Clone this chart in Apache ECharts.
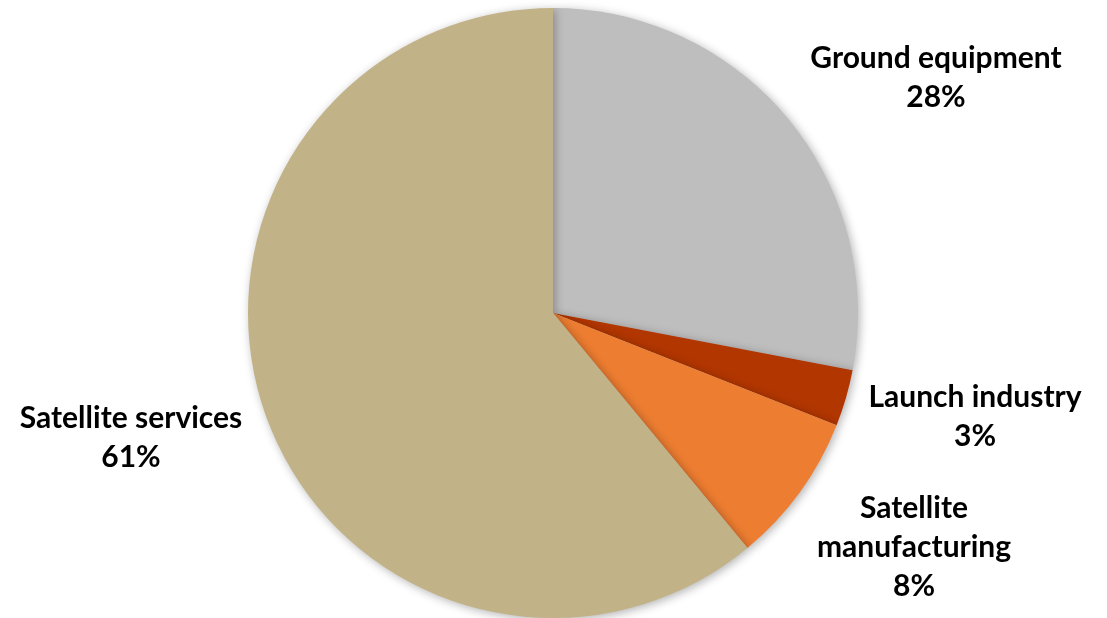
<!DOCTYPE html>
<html>
<head>
<meta charset="utf-8">
<script src="https://cdn.jsdelivr.net/npm/echarts@6/dist/echarts.min.js"></script>
<style>
  html, body { margin: 0; padding: 0; background: #fff; }
  #chart { width: 1107px; height: 618px; }
</style>
</head>
<body>
<div id="chart"></div>
<script>
// Space economy segments, share of revenue (%)
const categories = ['Ground equipment', 'Launch industry', 'Satellite\nmanufacturing', 'Satellite services'];
const shares = [28, 3, 8, 61];
const colors = ['#BEBEBE', '#B23600', '#ED7D31', '#C2B288'];

// Centre of each label block, in pixels
const labelSpots = [[936, 78], [975, 417], [914, 547], [131, 438]];

const chart = echarts.init(document.getElementById('chart'), null, { renderer: 'canvas' });
chart.setOption({
  animation: false,
  series: [{
    type: 'pie',
    center: [553, 313],
    radius: 305,
    startAngle: 90,
    clockwise: true,
    percentPrecision: 0,
    data: categories.map((name, i) => ({
      name,
      value: shares[i],
      itemStyle: { color: colors[i] }
    })),
    itemStyle: {
      borderWidth: 0,
      shadowBlur: 10,
      shadowColor: 'rgba(0,0,0,0.3)',
      shadowOffsetX: 2,
      shadowOffsetY: 2
    },
    label: {
      show: true,
      position: 'outside',
      formatter: '{b}\n{d}%',
      fontFamily: 'Lato',
      fontWeight: 'bold',
      fontSize: 30,
      lineHeight: 39,
      color: '#000',
      align: 'center',
      overflow: 'none'
    },
    labelLine: { show: false },
    labelLayout: (params) => ({
      x: labelSpots[params.dataIndex][0],
      y: labelSpots[params.dataIndex][1],
      align: 'center',
      verticalAlign: 'middle'
    }),
    emphasis: { disabled: true }
  }]
});
</script>
</body>
</html>
